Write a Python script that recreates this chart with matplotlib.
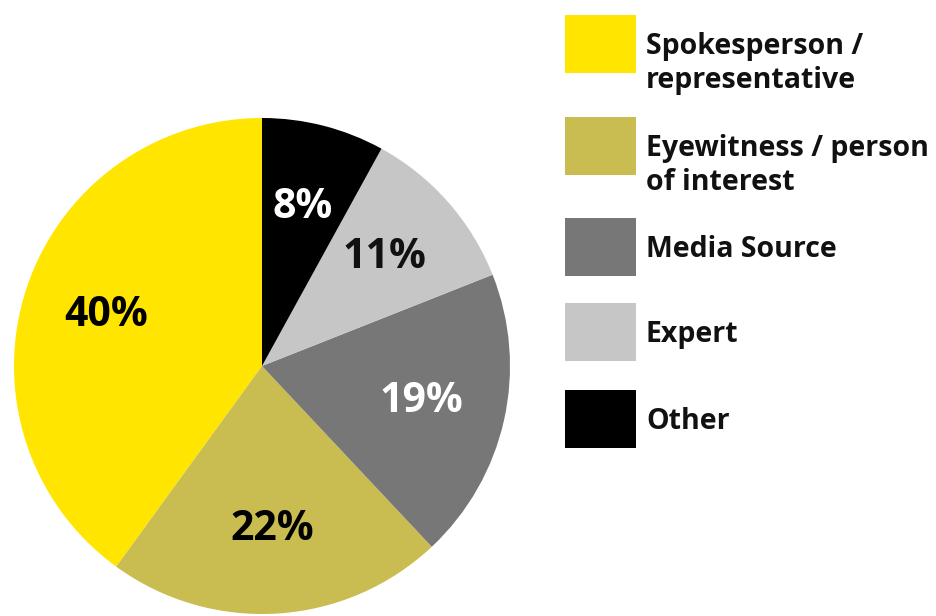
import matplotlib
matplotlib.use("Agg")
import matplotlib.pyplot as plt
from matplotlib.patches import Rectangle

# Source categories (legend order) and their shares in percent
categories = ["Spokesperson /\nrepresentative", "Eyewitness / person\nof interest",
              "Media Source", "Expert", "Other"]
shares = [40, 22, 19, 11, 8]
colors = ["#FFE500", "#C9BC50", "#777777", "#C6C6C6", "#000000"]
label_colors = ["#000000", "#000000", "#FFFFFF", "#111111", "#FFFFFF"]

W, H = 936, 616
fig = plt.figure(figsize=(W / 100, H / 100), dpi=100)
fig.patch.set_facecolor("white")

# Pie axes: centre (262, 366) px, radius 248 px
cx, cy, r = 262, 366, 248
ax = fig.add_axes([(cx - r) / W, (H - cy - r) / H, 2 * r / W, 2 * r / H])
wedges, texts, autotexts = ax.pie(
    shares, colors=colors, startangle=90, counterclock=True,
    autopct=lambda p: f"{p:.0f}%", pctdistance=0.66,
    wedgeprops=dict(linewidth=0),
    textprops=dict(fontsize=29.5, fontweight="bold", family="Open Sans"))
for t, c in zip(autotexts, label_colors):
    t.set_color(c)
ax.set_xlim(-1, 1)
ax.set_ylim(-1, 1)
ax.set_aspect("equal")
ax.axis("off")

# Legend: swatches with labels to the right
swatch_tops = [15, 117, 218, 303, 390]
sw_x, sw_w, sw_h = 565, 71, 58
line_gap = 34
for top, lab, col in zip(swatch_tops, categories, colors):
    fig.add_artist(Rectangle((sw_x / W, (H - top - sw_h) / H), sw_w / W, sw_h / H,
                             transform=fig.transFigure, facecolor=col,
                             edgecolor="none"))
    mid = top + sw_h / 2
    for i, line in enumerate(lab.split("\n")):
        base = mid + 10 + i * line_gap
        fig.text(646 / W, (H - base) / H, line, ha="left", va="baseline",
                 fontsize=20.5, fontweight="bold", family="Open Sans",
                 color="#111111")

fig.savefig("out.png", dpi=100, facecolor="white")
